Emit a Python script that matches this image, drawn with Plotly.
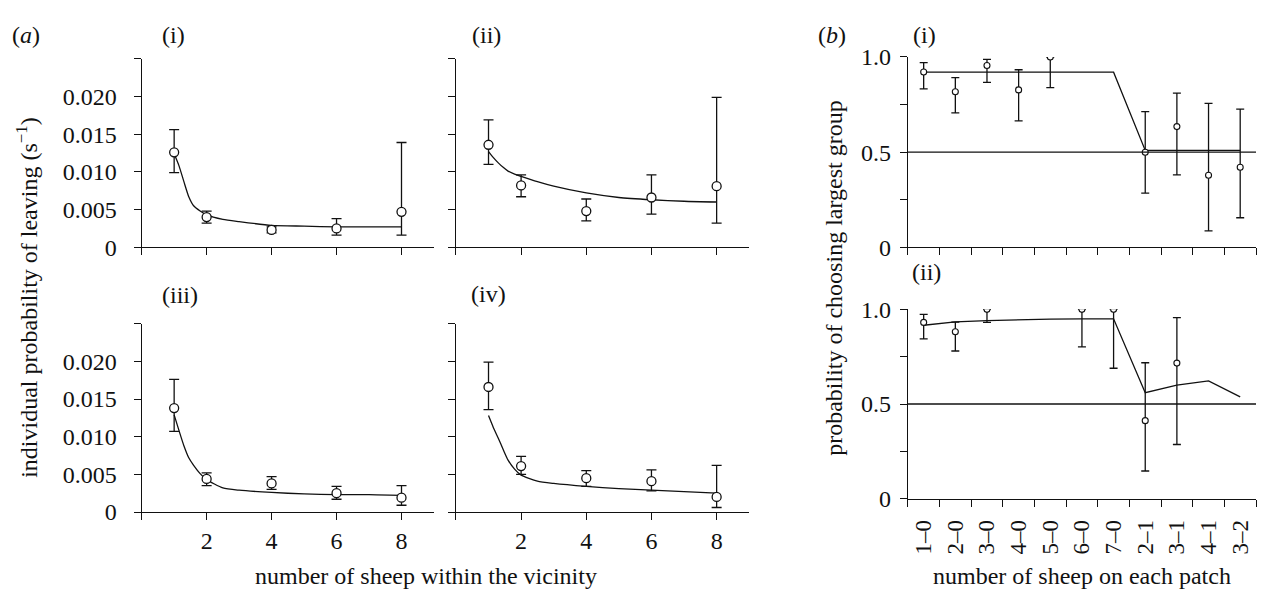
import plotly.graph_objects as go

# ---------------- data ----------------
# panel (a): individual probability of leaving vs number of sheep
a_x = [1, 2, 4, 6, 8]
a_i_y = [0.0126, 0.0040, 0.0023, 0.0025, 0.0047]
a_i_hi = [0.0156, 0.0048, 0.0027, 0.0038, 0.0139]
a_i_lo = [0.0099, 0.0032, 0.0019, 0.0016, 0.0016]

a_ii_y = [0.0136, 0.0082, 0.0048, 0.0066, 0.0081]
a_ii_hi = [0.0169, 0.0096, 0.0064, 0.0096, 0.0199]
a_ii_lo = [0.0110, 0.0067, 0.0035, 0.0044, 0.0032]

a_iii_y = [0.0138, 0.0044, 0.0038, 0.0025, 0.0019]
a_iii_hi = [0.0176, 0.0052, 0.0047, 0.0034, 0.0035]
a_iii_lo = [0.0107, 0.0035, 0.0030, 0.0017, 0.0009]

a_iv_y = [0.0166, 0.0061, 0.0045, 0.0041, 0.0020]
a_iv_hi = [0.0199, 0.0074, 0.0055, 0.0056, 0.0062]
a_iv_lo = [0.0136, 0.0050, 0.0034, 0.0028, 0.0006]

# model curves
curve_x = [1, 1.15, 1.3, 1.45, 1.6, 1.8, 2, 2.5, 3, 4, 5, 6, 7, 8]
curve_i = [0.0124, 0.0108, 0.0087, 0.0067, 0.0055, 0.0048, 0.0043, 0.0037, 0.0034,
           0.0029, 0.0028, 0.0027, 0.0027, 0.0027]
curve_ii = [0.0127, 0.0119, 0.0112, 0.0106, 0.0101, 0.0097, 0.0094, 0.0087, 0.0081,
            0.0072, 0.0066, 0.0063, 0.0061, 0.0060]
curve_iii = [0.0129, 0.0108, 0.0088, 0.0072, 0.0062, 0.0051, 0.0043, 0.0032, 0.0029,
             0.0026, 0.0024, 0.0023, 0.0023, 0.0022]
curve_iv = [0.0128, 0.0112, 0.0098, 0.0083, 0.0069, 0.0057, 0.0049, 0.0041, 0.0038,
            0.0034, 0.0031, 0.0029, 0.0027, 0.0025]

a_yticks = [0, 0.005, 0.010, 0.015, 0.020, 0.025]
a_yticktext = ["0", "0.005", "0.010", "0.015", "0.020", ""]
a_xticks = [0, 2, 4, 6, 8]
a_xticktext = ["", "2", "4", "6", "8"]

# panel (b): probability of choosing largest group
b_cats = ["1–0", "2–0", "3–0", "4–0", "5–0", "6–0", "7–0", "2–1", "3–1", "4–1", "3–2"]
b_i_y = [0.921, 0.817, 0.955, 0.827, 1.0, None, None, 0.499, 0.634, 0.378, 0.420]
b_i_hi = [0.970, 0.892, 0.987, 0.933, 1.0, None, None, 0.713, 0.810, 0.756, 0.726]
b_i_lo = [0.832, 0.706, 0.867, 0.664, 0.839, None, None, 0.284, 0.380, 0.086, 0.155]
b_i_model = [0.92, 0.92, 0.92, 0.92, 0.92, 0.92, 0.92, 0.509, 0.509, 0.509, 0.509]

b_ii_y = [0.931, 0.882, 1.0, None, None, 1.0, 1.0, 0.412, 0.716, None, None]
b_ii_hi = [0.973, 0.933, 1.0, None, None, 1.0, 1.0, 0.718, 0.956, None, None]
b_ii_lo = [0.844, 0.780, 0.931, None, None, 0.802, 0.689, 0.146, 0.286, None, None]
b_ii_model = [0.916, 0.934, 0.941, 0.946, 0.948, 0.950, 0.950, 0.560, 0.600, 0.622, 0.538]

b_yticks = [0, 0.25, 0.5, 0.75, 1.0]
b_yticktext = ["0", "", "0.5", "", "1.0"]
chance_level = 0.5

# ---------------- styling ----------------
W, H = 1264, 591
FONT = "Liberation Serif"
FS = 24
LW = 1.3


def xd(p0, p1):
    return [p0 / W, p1 / W]


def yd(top, bottom):
    return [1 - bottom / H, 1 - top / H]


fig = go.Figure()


def err(y, hi, lo):
    plus = [None if v is None else h - v for v, h in zip(y, hi)]
    minus = [None if v is None else v - l for v, l in zip(y, lo)]
    return plus, minus


panels_a = [
    ("x", "y", a_i_y, a_i_hi, a_i_lo, curve_i),
    ("x2", "y2", a_ii_y, a_ii_hi, a_ii_lo, curve_ii),
    ("x3", "y3", a_iii_y, a_iii_hi, a_iii_lo, curve_iii),
    ("x4", "y4", a_iv_y, a_iv_hi, a_iv_lo, curve_iv),
]
for xa, ya, yv, hi, lo, cv in panels_a:
    fig.add_trace(go.Scatter(x=curve_x, y=cv, mode="lines", xaxis=xa, yaxis=ya,
                             line=dict(color="#111", width=LW, shape="spline", smoothing=0.6),
                             showlegend=False, hoverinfo="skip"))
    plus, minus = err(yv, hi, lo)
    fig.add_trace(go.Scatter(x=a_x, y=yv, mode="markers", xaxis=xa, yaxis=ya,
                             marker=dict(symbol="circle", size=9, color="white",
                                         line=dict(color="#111", width=LW)),
                             error_y=dict(type="data", array=plus, arrayminus=minus, symmetric=False,
                                          color="#111", thickness=LW, width=5),
                             showlegend=False))

panels_b = [
    ("x5", "y5", b_i_y, b_i_hi, b_i_lo, b_i_model),
    ("x6", "y6", b_ii_y, b_ii_hi, b_ii_lo, b_ii_model),
]
for xa, ya, yv, hi, lo, model in panels_b:
    fig.add_shape(type="line", xref=f"{xa} domain", yref=ya, x0=0, x1=1,
                  y0=chance_level, y1=chance_level, line=dict(color="#111", width=LW))
    fig.add_trace(go.Scatter(x=b_cats, y=model, mode="lines", xaxis=xa, yaxis=ya,
                             line=dict(color="#111", width=LW), showlegend=False))
    plus, minus = err(yv, hi, lo)
    fig.add_trace(go.Scatter(x=b_cats, y=yv, mode="markers", xaxis=xa, yaxis=ya,
                             marker=dict(symbol="circle", size=6, color="white",
                                         line=dict(color="#111", width=1.1)),
                             error_y=dict(type="data", array=plus, arrayminus=minus, symmetric=False,
                                          color="#111", thickness=LW, width=4),
                             showlegend=False))

axis_common = dict(showgrid=False, zeroline=False, showline=True, linecolor="#111", linewidth=LW,
                   ticks="outside", ticklen=7, tickwidth=LW, tickcolor="#111",
                   tickfont=dict(family=FONT, size=FS, color="#111"))

# panel (a) axes
a_cols = [(139, 432), (454, 748)]
a_rows = [(48, 245), (325, 522)]
idx = 1
for r, (top, bot) in enumerate(a_rows):
    for c, (left, right) in enumerate(a_cols):
        sfx = "" if idx == 1 else str(idx)
        fig.update_layout(**{
            f"xaxis{sfx}": dict(axis_common, domain=xd(left, right), anchor=f"y{sfx}",
                                range=[0, 9], tickvals=a_xticks,
                                ticktext=a_xticktext if r == 1 else [" "] * len(a_xticks),
                                ticklabelstandoff=0),
            f"yaxis{sfx}": dict(axis_common, domain=yd(top, bot), anchor=f"x{sfx}",
                                range=[0, 0.025], tickvals=a_yticks,
                                ticktext=a_yticktext if c == 0 else [" "] * len(a_yticks),
                                ticklabelstandoff=12),
        })
        idx += 1

# panel (b) axes
b_rows = [(46, 245), (310, 508)]
for r, (top, bot) in enumerate(b_rows):
    n = 5 + r
    fig.update_layout(**{
        f"xaxis{n}": dict(axis_common, domain=xd(907, 1256), anchor=f"y{n}", type="category",
                          categoryorder="array", categoryarray=b_cats, range=[-0.5, 10.5],
                          tickson="boundaries", tickangle=-90, ticklabelstandoff=11,
                          tickfont=dict(family=FONT, size=23, color="#111"),
                          showticklabels=(r == 1)),
        f"yaxis{n}": dict(axis_common, domain=yd(top, bot), anchor=f"x{n}", range=[0, 1],
                          tickvals=b_yticks, ticktext=b_yticktext, ticklabelstandoff=4),
    })

ann = []


def label(text, x, y, **kw):
    ann.append(dict(text=text, x=x / W, y=1 - y / H, xref="paper", yref="paper",
                    showarrow=False, font=dict(family=FONT, size=FS, color="#111"),
                    xanchor="center", yanchor="middle", **kw))


label("(<i>a</i>)", 23, 23)
label("(i)", 171, 23)
label("(ii)", 485, 23)
label("(iii)", 177, 295)
label("(iv)", 487, 294)
label("(<i>b</i>)", 831, 23)
label("(i)", 924, 23)
label("(ii)", 926, 271)
label("individual probability of leaving (s<sup>−1</sup>)", 24, 298, textangle=-90)
label("number of sheep within the vicinity", 424, 589)
label("probability of choosing largest group", 833, 277, textangle=-90)
label("number of sheep on each patch", 1082, 589)

fig.update_layout(width=W, height=H, margin=dict(l=0, r=0, t=0, b=0),
                  paper_bgcolor="white", plot_bgcolor="white", annotations=ann,
                  showlegend=False, font=dict(family=FONT, size=FS, color="#111"))

fig.write_html("out.html")
